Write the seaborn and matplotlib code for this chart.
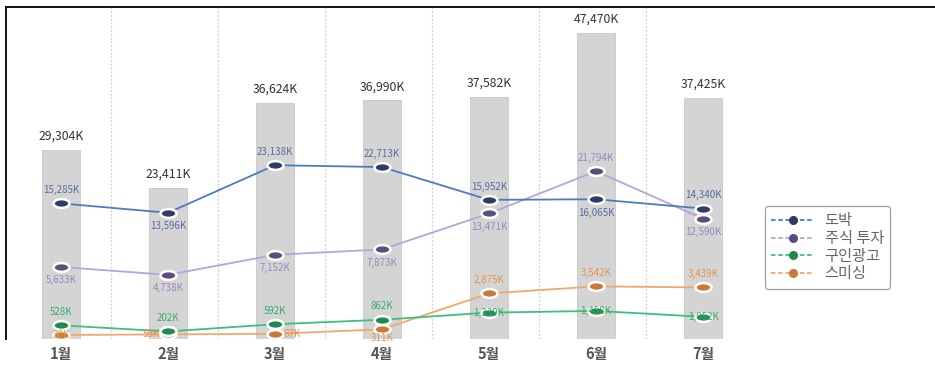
import numpy as np
import pandas as pd
import matplotlib
matplotlib.use("Agg")
import matplotlib.pyplot as plt
import seaborn as sns
from matplotlib.path import Path
from matplotlib.transforms import Affine2D
from matplotlib.lines import Line2D

# ---------------- data ----------------
months = ["1월", "2월", "3월", "4월", "5월", "6월", "7월"]
totals = [29304, 23411, 36624, 36990, 37582, 47470, 37425]
series_names = ["도박", "주식 투자", "구인광고", "스미싱"]
gambling = [15285, 13596, 23138, 22713, 15952, 16065, 14340]
stocks = [5633, 4738, 7152, 7873, 13471, 21794, 12590]
jobs = [528, 202, 592, 862, 1339, 1458, 1052]
smishing = [30, 59, 87, 311, 2875, 3542, 3439]

# ---------------- style ----------------
sns.set_theme(style="white")
plt.rcParams["font.family"] = ["Noto Sans CJK KR", "DejaVu Sans"]

line_colors = ["#4a7cc0", "#b9a3d9", "#3cc07a", "#f2a86a"]
marker_fc = ["#2e3c66", "#5b4d7c", "#1f8a4c", "#c97a3a"]
label_colors = ["#5a6c9e", "#9a86bd", "#3aab6b", "#e0944f"]
# label placement per point: a=above, b=below, s=just below, c=center, l=left, r=right
placements = [
    ["a", "b", "a", "a", "a", "b", "a"],
    ["b", "b", "b", "b", "b", "a", "b"],
    ["a", "a", "a", "a", "c", "c", "c"],
    ["c", "l", "r", "s", "a", "a", "a"],
]
offs = {"a": (0, 6, "center", "bottom"), "b": (0, -6, "center", "top"),
        "s": (0, -2.5, "center", "top"),
        "c": (0, 0, "center", "center"), "l": (-6, 0, "right", "center"),
        "r": (6, 0, "left", "center")}

W, H = 935, 367
fig = plt.figure(figsize=(W / 100, H / 100), dpi=100)
fig.patch.set_facecolor("white")
left_px, right_px, top_px, bot_px = 6, 935, 7, 339
ax = fig.add_axes([left_px / W, (H - bot_px) / H, (right_px - left_px) / W, (bot_px - top_px) / H])

df_bar = pd.DataFrame({"month": months, "total": totals})
sns.barplot(data=df_bar, x="month", y="total", ax=ax, color="#d4d4d4",
            width=0.355, saturation=1, edgecolor="#c8c8c8", linewidth=0.6, zorder=2)

x0_px, step_px = 61, 107
ax.set_xlim(-(x0_px - left_px) / step_px, (right_px - left_px - (x0_px - left_px)) / step_px)
ax.set_ylim(0, 51460)

for i in range(len(months) - 1):
    ax.axvline(i + 0.47, color="#cfcfcf", lw=0.9, ls=(0, (1.5, 1.5)), zorder=1)

for i, t in enumerate(totals):
    ax.annotate(f"{t:,}K", (i, t), xytext=(0, 5), textcoords="offset points",
                ha="center", va="bottom", fontsize=8.8, color="#333333")

ax.set_xlabel("")
ax.set_ylabel("")
ax.set_yticks([])
ax.tick_params(axis="x", length=0, pad=5)
for lab in ax.get_xticklabels():
    lab.set_fontweight("bold")
    lab.set_fontsize(10.5)
    lab.set_color("#555555")
for s in ["right", "bottom"]:
    ax.spines[s].set_visible(False)
for s in ["left", "top"]:
    ax.spines[s].set_color("#111111")
    ax.spines[s].set_linewidth(1.4)

# ---------------- lines on twin axis ----------------
ax2 = ax.twinx()
ax2.set_yscale("function", functions=(lambda v: np.sqrt(np.maximum(np.asarray(v) + 1000.0, 0)),
                                       lambda s: np.asarray(s) ** 2 - 1000.0))
ax2.set_ylim(-148, 72000)
ax2.set_yticks([])
ax2.yaxis.set_minor_locator(matplotlib.ticker.NullLocator())
for s in ax2.spines.values():
    s.set_visible(False)

ell = Path.unit_circle().transformed(Affine2D().scale(1.0, 0.55))
xs = list(range(len(months)))
all_series = [gambling, stocks, jobs, smishing]
handles = []
for k, (name, vals) in enumerate(zip(series_names, all_series)):
    sns.lineplot(x=xs, y=vals, ax=ax2, color=line_colors[k], lw=1.3,
                 marker=ell, markersize=11.5, markerfacecolor=marker_fc[k],
                 markeredgecolor="white", markeredgewidth=1.8, zorder=5 - k * 0.1)
    for i, v in enumerate(vals):
        dx, dy, ha, va = offs[placements[k][i]]
        ax2.annotate(f"{v:,}K", (i, v), xytext=(dx, dy), textcoords="offset points",
                     ha=ha, va=va, fontsize=7.0, color=label_colors[k], zorder=6)
    handles.append(Line2D([], [], color=line_colors[k], lw=1.3, ls=(0, (2.5, 1.5)),
                          marker="o", markersize=5.5, markerfacecolor=marker_fc[k],
                          markeredgecolor=marker_fc[k]))

leg = fig.legend(handles, series_names, loc="upper left",
                 bbox_to_anchor=(765 / W, 1 - 206 / H), bbox_transform=fig.transFigure,
                 borderaxespad=0, frameon=True, fontsize=11, handlelength=2.8,
                 handletextpad=0.7, labelspacing=0.05, borderpad=0.4, fancybox=True)
leg.get_frame().set_edgecolor("#888888")
leg.get_frame().set_linewidth(0.9)
for t in leg.get_texts():
    t.set_color("#666666")

fig.savefig("out.png", dpi=100, facecolor="white")
